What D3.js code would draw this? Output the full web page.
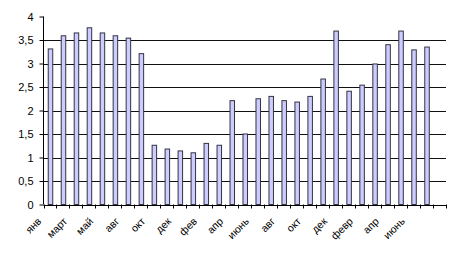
<!DOCTYPE html>
<html>
<head>
  <meta charset="utf-8">
  <title>bars</title>
  <script src="https://d3js.org/d3.v7.min.js"></script>
  <style>
    body{margin:0;background:#fff;}
    text{font-family:"Liberation Sans",Arial,sans-serif;fill:#000;}
  </style>
</head>
<body>
  <script>
      // 31 category slots, labels shown on every other one
      var categories=["янв","фев","март","апр","май","июль","авг","сен","окт","нояб",
                      "дек","янв","фев","март","апр","май","июнь","июль","авг","сен",
                      "окт","нояб","дек","янв","февр","март","апр","май","июнь","июль",""];
      var values=[3.31,3.59,3.65,3.76,3.65,3.59,3.54,3.21,1.26,1.18,
                  1.14,1.10,1.30,1.26,2.21,1.50,2.25,2.30,2.21,2.18,
                  2.30,2.67,3.69,2.41,2.54,2.99,3.40,3.69,3.29,3.35,null];
      var yTicks=[0,0.5,1,1.5,2,2.5,3,3.5,4];

      var w=451, h=258;
      var padL=43.5, padR=446, padT=16.5, padB=204.5;
      var barW=4.5;

      var svg=d3.select("body").append("svg")
                .attr("width",w).attr("height",h);

      var x=d3.scaleBand()
              .domain(d3.range(categories.length))
              .range([padL,padR])
              .padding(0);
      var y=d3.scaleLinear().domain([0,4]).range([padB,padT]);
      var fmt=function(d){return String(d).replace(".",",");};

      // horizontal grid lines (none at the top value)
      svg.append("g").selectAll("line")
         .data(yTicks.filter(function(d){return d>0 && d<4;}))
         .enter().append("line")
         .attr("x1",padL).attr("x2",padR)
         .attr("y1",function(d){return Math.round(y(d))+0.5;})
         .attr("y2",function(d){return Math.round(y(d))+0.5;})
         .attr("stroke","#111").attr("stroke-width",1);

      // bars
      svg.append("g").selectAll("rect")
         .data(values.map(function(v,i){return {i:i,v:v};}).filter(function(d){return d.v!=null;}))
         .enter().append("rect")
         .attr("x",function(d){return x(d.i)+(x.bandwidth()-barW)/2+0.5;})
         .attr("y",function(d){return y(d.v);})
         .attr("width",barW)
         .attr("height",function(d){return y(0)-y(d.v);})
         .attr("fill","#ccccff")
         .attr("stroke","#333344")
         .attr("stroke-width",1);

      // y axis
      var yAxis=d3.axisLeft(y).tickValues(yTicks).tickSize(4).tickPadding(6).tickFormat(fmt);
      var gy=svg.append("g").attr("transform","translate("+padL+",0)").call(yAxis);
      gy.select(".domain").remove();
      gy.append("line").attr("x1",0).attr("x2",0).attr("y1",padT).attr("y2",padB)
        .attr("stroke","#000");
      gy.selectAll(".tick line").attr("stroke","#000");
      gy.selectAll("text").style("font-size","11px").attr("fill","#000")
        .style("font-family","'Liberation Sans',Arial,sans-serif");

      // x axis: tick marks at slot boundaries
      svg.append("line").attr("x1",padL).attr("x2",padR)
         .attr("y1",Math.round(padB)+0.5).attr("y2",Math.round(padB)+0.5)
         .attr("stroke","#000");
      svg.append("g").selectAll("line")
         .data(d3.range(categories.length+1))
         .enter().append("line")
         .attr("x1",function(i){return Math.round(padL+i*x.step())+0.5;})
         .attr("x2",function(i){return Math.round(padL+i*x.step())+0.5;})
         .attr("y1",padB).attr("y2",padB+4)
         .attr("stroke","#000");

      svg.append("g").selectAll("text")
         .data(categories.map(function(c,i){return {c:c,i:i};}).filter(function(d){return d.i%2===0;}))
         .enter().append("text")
         .text(function(d){return d.c;})
         .attr("text-anchor","end")
         .attr("transform",function(d){
            var cx=x(d.i)+x.bandwidth()/2-8;
            return "translate("+cx+","+222+") rotate(-45)";
         })
         .style("font-size","10.5px");
  </script>
</body>
</html>
